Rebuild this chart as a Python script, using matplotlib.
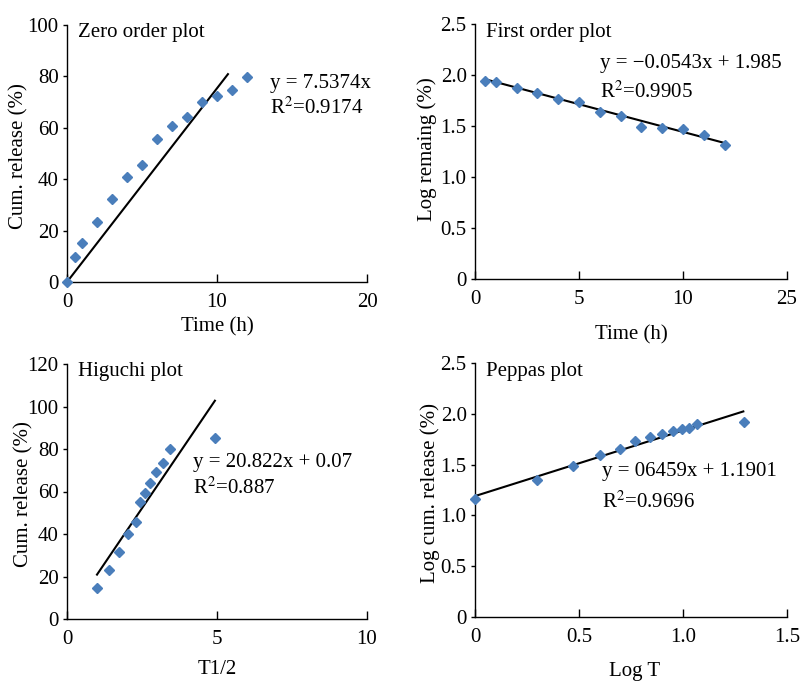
import matplotlib
matplotlib.use("Agg")
import matplotlib.pyplot as plt
from matplotlib.ticker import FuncFormatter
import numpy as np

plt.rcParams['font.family'] = ['Liberation Serif', 'DejaVu Serif']
plt.rcParams['font.size'] = 15
plt.rcParams['mathtext.fontset'] = 'stix'

# Zero order data
zero_t = [0, 0.5, 1, 2, 3, 4, 5, 6, 7, 8, 9, 10, 11, 12]
zero_rel = [0, 9.7, 15.2, 23.4, 32.3, 40.9, 45.7, 55.8, 60.6, 64.3, 69.9, 72.3, 74.9, 79.6]

# First order data
first_t = [0.5, 1, 2, 3, 4, 5, 6, 7, 8, 9, 10, 11, 12]
first_log = [1.94, 1.93, 1.87, 1.82, 1.76, 1.74, 1.64, 1.60, 1.49, 1.485, 1.47, 1.41, 1.31]
first_xticklabels = ['0', '5', '10', '25']   # last label as printed in the original

# Higuchi data
hig_sqrt_t = [1.0, 1.39, 1.72, 2.03, 2.30, 2.42, 2.61, 2.78, 2.97, 3.19, 3.44, 4.94]
hig_rel = [14.6, 23.2, 31.5, 40.1, 45.6, 55.0, 59.5, 64.2, 69.1, 73.3, 79.9, 85.1]

# Peppas data
pep_logt = [0, 0.30, 0.47, 0.60, 0.695, 0.77, 0.84, 0.90, 0.95, 0.995, 1.03, 1.065, 1.294]
pep_logrel = [1.158, 1.348, 1.486, 1.594, 1.649, 1.731, 1.774, 1.806, 1.829, 1.846, 1.865, 1.898, 1.921]

# fitted lines (slope, intercept, x range)
zero_fit = (7.5374, 0.0, 0, 10.73)
first_fit = (-0.0543, 1.985, 0.5, 12)
hig_fit = (20.822, 0.07, 1.0, 4.93)
pep_fit = (0.6459, 1.1901, 0, 1.29)

MARKER_COLOR = '#4A7EBB'

W, H = 801, 682
fig = plt.figure(figsize=(W / 100, H / 100), dpi=100)


def make_axes(left, top, right, bottom):
    return fig.add_axes([left / W, 1 - bottom / H, (right - left) / W, (bottom - top) / H])


def style(ax, xlim, ylim, xticks, yticks, fmt=None):
    ax.set_xlim(*xlim)
    ax.set_ylim(*ylim)
    ax.set_xticks(xticks)
    ax.set_yticks(yticks)
    ax.spines['top'].set_visible(False)
    ax.spines['right'].set_visible(False)
    for s in ('left', 'bottom'):
        ax.spines[s].set_linewidth(1.0)
    ax.tick_params(axis='x', direction='in', length=6, width=1.0, pad=8)
    ax.tick_params(axis='y', direction='out', length=3, width=1.0, pad=3)
    if fmt is not None:
        ax.xaxis.set_major_formatter(FuncFormatter(fmt))
        ax.yaxis.set_major_formatter(FuncFormatter(fmt))


def dec(v, pos):
    return '0' if v == 0 else f'{v:.1f}'


def draw(ax, x, y, fit):
    m, b, x0, x1 = fit
    xs = np.array([x0, x1])
    ax.plot(xs, m * xs + b, color='black', lw=1.5, zorder=2)
    ax.plot(x, y, 'D', color=MARKER_COLOR, markersize=5.3, zorder=3, clip_on=False)


# Zero order
ax1 = make_axes(67, 25, 367, 282)
style(ax1, (0, 20), (0, 100), [0, 10, 20], [0, 20, 40, 60, 80, 100])
draw(ax1, zero_t, zero_rel, zero_fit)
ax1.text(0.037, 0.969, 'Zero order plot', transform=ax1.transAxes, va='center')
ax1.text(0.677, 0.774, 'y = 7.5374x', transform=ax1.transAxes, va='center')
ax1.text(0.677, 0.677, 'R$^2$=0.9174', transform=ax1.transAxes, va='center')
ax1.set_xlabel('Time (h)')
ax1.set_ylabel('Cum. release (%)')
ax1.xaxis.set_label_coords(0.5, -0.136)
ax1.yaxis.set_label_coords(-0.13, 0.49)

# First order
ax2 = make_axes(475, 24, 787, 279)
style(ax2, (0, 15), (0, 2.5), [0, 5, 10, 15], [0, 0.5, 1.0, 1.5, 2.0, 2.5])
ax2.set_xticklabels(first_xticklabels)
ax2.yaxis.set_major_formatter(FuncFormatter(dec))
draw(ax2, first_t, first_log, first_fit)
ax2.text(0.035, 0.965, 'First order plot', transform=ax2.transAxes, va='center')
ax2.text(0.40, 0.847, 'y = \u22120.0543x + 1.985', transform=ax2.transAxes, va='center')
ax2.text(0.40, 0.733, 'R$^2$=0.9905', transform=ax2.transAxes, va='center')
ax2.set_xlabel('Time (h)')
ax2.set_ylabel('Log remaing (%)')
ax2.xaxis.set_label_coords(0.5, -0.18)
ax2.yaxis.set_label_coords(-0.122, 0.51)

# Higuchi
ax3 = make_axes(67, 364, 367, 619)
style(ax3, (0, 10), (0, 120), [0, 5, 10], [0, 20, 40, 60, 80, 100, 120])
draw(ax3, hig_sqrt_t, hig_rel, hig_fit)
ax3.text(0.037, 0.969, 'Higuchi plot', transform=ax3.transAxes, va='center')
ax3.text(0.42, 0.612, 'y = 20.822x + 0.07', transform=ax3.transAxes, va='center')
ax3.text(0.42, 0.514, 'R$^2$=0.887', transform=ax3.transAxes, va='center')
ax3.set_xlabel('T1/2')
ax3.set_ylabel('Cum. release (%)')
ax3.xaxis.set_label_coords(0.5, -0.16)
ax3.yaxis.set_label_coords(-0.113, 0.49)

# Peppas
ax4 = make_axes(475, 363, 787, 617)
style(ax4, (0, 1.5), (0, 2.5), [0, 0.5, 1.0, 1.5], [0, 0.5, 1.0, 1.5, 2.0, 2.5], fmt=dec)
draw(ax4, pep_logt, pep_logrel, pep_fit)
ax4.text(0.035, 0.965, 'Peppas plot', transform=ax4.transAxes, va='center')
ax4.text(0.407, 0.571, 'y = 06459x + 1.1901', transform=ax4.transAxes, va='center')
ax4.text(0.407, 0.453, 'R$^2$=0.9696', transform=ax4.transAxes, va='center')
ax4.set_xlabel('Log T')
ax4.set_ylabel('Log cum. release (%)')
ax4.xaxis.set_label_coords(0.51, -0.177)
ax4.yaxis.set_label_coords(-0.112, 0.49)

fig.savefig('out.png', dpi=100)
